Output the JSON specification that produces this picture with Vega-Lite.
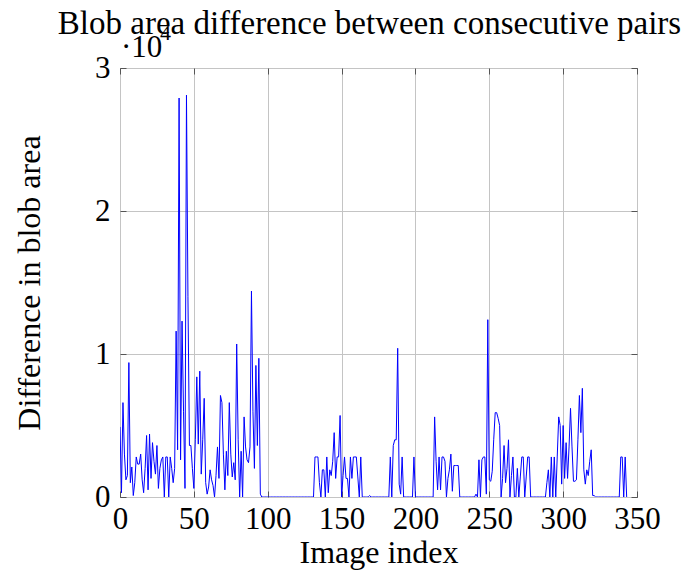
{
  "$schema": "https://vega.github.io/schema/vega-lite/v6.json",
  "autosize": "none",
  "width": 517,
  "height": 429,
  "padding": {"left": 120, "top": 68, "right": 44, "bottom": 82},
  "background": "white",
  "config": {
    "font": "Liberation Serif",
    "view": {"stroke": "black", "strokeWidth": 1}
  },
  "title": {
    "text": "Blob area difference between consecutive pairs",
    "fontSize": 33,
    "fontWeight": "normal",
    "color": "black",
    "frame": "group",
    "anchor": "middle",
    "baseline": "alphabetic",
    "offset": 0,
    "dy": 45,
    "dx": -9
  },
  "data": {
    "values": [
      {"i":0,"v":4900},{"i":1,"v":300},{"i":2,"v":6600},{"i":3,"v":3000},{"i":4,"v":1200},{"i":5,"v":1500},{"i":6,"v":9400},{"i":7,"v":1000},{"i":8,"v":2100},{"i":9,"v":100},
      {"i":10,"v":1000},{"i":11,"v":2800},{"i":12,"v":2300},{"i":13,"v":2300},{"i":14,"v":3000},{"i":15,"v":1200},{"i":16,"v":300},{"i":17,"v":2000},{"i":18,"v":4300},{"i":19,"v":500},
      {"i":20,"v":4400},{"i":21,"v":1300},{"i":22,"v":3800},{"i":23,"v":2500},{"i":24,"v":1600},{"i":25,"v":3600},{"i":26,"v":600},{"i":27,"v":2000},{"i":28,"v":2600},{"i":29,"v":2800},
      {"i":30,"v":0},{"i":31,"v":2800},{"i":32,"v":2800},{"i":33,"v":0},{"i":34,"v":2800},{"i":35,"v":2000},{"i":36,"v":1000},{"i":37,"v":2000},{"i":38,"v":11600},{"i":39,"v":3300},
      {"i":40,"v":27900},{"i":41,"v":2600},{"i":42,"v":12300},{"i":43,"v":6000},{"i":44,"v":600},{"i":45,"v":28100},{"i":46,"v":14000},{"i":47,"v":3600},{"i":48,"v":3600},{"i":49,"v":2000},
      {"i":50,"v":600},{"i":51,"v":4000},{"i":52,"v":8400},{"i":53,"v":3700},{"i":54,"v":8800},{"i":55,"v":1600},{"i":56,"v":4000},{"i":57,"v":6900},{"i":58,"v":1000},{"i":59,"v":200},
      {"i":60,"v":700},{"i":61,"v":1900},{"i":62,"v":1200},{"i":63,"v":800},{"i":64,"v":0},{"i":65,"v":1500},{"i":66,"v":3500},{"i":67,"v":1300},{"i":68,"v":7100},{"i":69,"v":6600},
      {"i":70,"v":3000},{"i":71,"v":500},{"i":72,"v":3200},{"i":73,"v":1500},{"i":74,"v":6600},{"i":75,"v":3000},{"i":76,"v":1400},{"i":77,"v":2400},{"i":78,"v":1200},{"i":79,"v":10700},
      {"i":80,"v":4000},{"i":81,"v":0},{"i":82,"v":3200},{"i":83,"v":0},{"i":84,"v":5600},{"i":85,"v":3500},{"i":86,"v":2600},{"i":87,"v":2400},{"i":88,"v":3500},{"i":89,"v":14400},
      {"i":90,"v":6000},{"i":91,"v":2000},{"i":92,"v":9200},{"i":93,"v":3600},{"i":94,"v":9700},{"i":95,"v":200},{"i":96,"v":0},{"i":97,"v":0},{"i":98,"v":0},{"i":99,"v":0},
      {"i":100,"v":0},{"i":101,"v":0},{"i":102,"v":0},{"i":103,"v":0},{"i":104,"v":0},{"i":105,"v":0},{"i":106,"v":0},{"i":107,"v":0},{"i":108,"v":0},{"i":109,"v":0},
      {"i":110,"v":0},{"i":111,"v":0},{"i":112,"v":0},{"i":113,"v":0},{"i":114,"v":0},{"i":115,"v":0},{"i":116,"v":0},{"i":117,"v":0},{"i":118,"v":0},{"i":119,"v":0},
      {"i":120,"v":0},{"i":121,"v":0},{"i":122,"v":0},{"i":123,"v":0},{"i":124,"v":0},{"i":125,"v":0},{"i":126,"v":0},{"i":127,"v":0},{"i":128,"v":0},{"i":129,"v":0},
      {"i":130,"v":0},{"i":131,"v":0},{"i":132,"v":2800},{"i":133,"v":2800},{"i":134,"v":2800},{"i":135,"v":1000},{"i":136,"v":0},{"i":137,"v":1900},{"i":138,"v":1900},{"i":139,"v":0},
      {"i":140,"v":2800},{"i":141,"v":300},{"i":142,"v":1900},{"i":143,"v":1500},{"i":144,"v":2500},{"i":145,"v":4500},{"i":146,"v":1300},{"i":147,"v":2800},{"i":148,"v":2800},{"i":149,"v":5700},
      {"i":150,"v":0},{"i":151,"v":1500},{"i":152,"v":2800},{"i":153,"v":1300},{"i":154,"v":1300},{"i":155,"v":0},{"i":156,"v":2800},{"i":157,"v":1300},{"i":158,"v":2800},{"i":159,"v":2800},
      {"i":160,"v":2800},{"i":161,"v":1400},{"i":162,"v":0},{"i":163,"v":2800},{"i":164,"v":0},{"i":165,"v":0},{"i":166,"v":0},{"i":167,"v":0},{"i":168,"v":0},{"i":169,"v":100},
      {"i":170,"v":0},{"i":171,"v":0},{"i":172,"v":0},{"i":173,"v":0},{"i":174,"v":0},{"i":175,"v":0},{"i":176,"v":0},{"i":177,"v":0},{"i":178,"v":0},{"i":179,"v":0},
      {"i":180,"v":0},{"i":181,"v":0},{"i":182,"v":0},{"i":183,"v":2800},{"i":184,"v":0},{"i":185,"v":3600},{"i":186,"v":4000},{"i":187,"v":4000},{"i":188,"v":10400},{"i":189,"v":900},
      {"i":190,"v":200},{"i":191,"v":2800},{"i":192,"v":0},{"i":193,"v":0},{"i":194,"v":0},{"i":195,"v":0},{"i":196,"v":0},{"i":197,"v":0},{"i":198,"v":0},{"i":199,"v":2800},
      {"i":200,"v":0},{"i":201,"v":0},{"i":202,"v":0},{"i":203,"v":0},{"i":204,"v":0},{"i":205,"v":0},{"i":206,"v":0},{"i":207,"v":0},{"i":208,"v":0},{"i":209,"v":0},
      {"i":210,"v":0},{"i":211,"v":0},{"i":212,"v":0},{"i":213,"v":5600},{"i":214,"v":2500},{"i":215,"v":500},{"i":216,"v":2800},{"i":217,"v":500},{"i":218,"v":2800},{"i":219,"v":2800},
      {"i":220,"v":2500},{"i":221,"v":0},{"i":222,"v":1300},{"i":223,"v":1900},{"i":224,"v":3000},{"i":225,"v":400},{"i":226,"v":2200},{"i":227,"v":2200},{"i":228,"v":2200},{"i":229,"v":2200},
      {"i":230,"v":0},{"i":231,"v":0},{"i":232,"v":0},{"i":233,"v":0},{"i":234,"v":0},{"i":235,"v":0},{"i":236,"v":0},{"i":237,"v":0},{"i":238,"v":0},{"i":239,"v":0},
      {"i":240,"v":0},{"i":241,"v":200},{"i":242,"v":0},{"i":243,"v":2600},{"i":244,"v":0},{"i":245,"v":2600},{"i":246,"v":2800},{"i":247,"v":2800},{"i":248,"v":200},{"i":249,"v":12400},
      {"i":250,"v":1200},{"i":251,"v":1100},{"i":252,"v":1800},{"i":253,"v":4000},{"i":254,"v":5900},{"i":255,"v":5900},{"i":256,"v":5500},{"i":257,"v":5000},{"i":258,"v":0},{"i":259,"v":1300},
      {"i":260,"v":3600},{"i":261,"v":1000},{"i":262,"v":2000},{"i":263,"v":4000},{"i":264,"v":0},{"i":265,"v":1500},{"i":266,"v":2800},{"i":267,"v":0},{"i":268,"v":0},{"i":269,"v":2000},
      {"i":270,"v":0},{"i":271,"v":1400},{"i":272,"v":2800},{"i":273,"v":2800},{"i":274,"v":0},{"i":275,"v":1400},{"i":276,"v":2800},{"i":277,"v":2800},{"i":278,"v":0},{"i":279,"v":0},
      {"i":280,"v":0},{"i":281,"v":0},{"i":282,"v":0},{"i":283,"v":0},{"i":284,"v":0},{"i":285,"v":0},{"i":286,"v":0},{"i":287,"v":0},{"i":288,"v":0},{"i":289,"v":1000},
      {"i":290,"v":1900},{"i":291,"v":0},{"i":292,"v":2800},{"i":293,"v":0},{"i":294,"v":2800},{"i":295,"v":0},{"i":296,"v":2800},{"i":297,"v":5600},{"i":298,"v":5000},{"i":299,"v":900},
      {"i":300,"v":5000},{"i":301,"v":1300},{"i":302,"v":3800},{"i":303,"v":1300},{"i":304,"v":3500},{"i":305,"v":6200},{"i":306,"v":3500},{"i":307,"v":1100},{"i":308,"v":1100},{"i":309,"v":1200},
      {"i":310,"v":4000},{"i":311,"v":7100},{"i":312,"v":4500},{"i":313,"v":7600},{"i":314,"v":1900},{"i":315,"v":900},{"i":316,"v":1900},{"i":317,"v":1500},{"i":318,"v":2500},{"i":319,"v":3300},
      {"i":320,"v":100},{"i":321,"v":100},{"i":322,"v":0},{"i":323,"v":0},{"i":324,"v":0},{"i":325,"v":0},{"i":326,"v":0},{"i":327,"v":0},{"i":328,"v":0},{"i":329,"v":0},
      {"i":330,"v":0},{"i":331,"v":0},{"i":332,"v":0},{"i":333,"v":0},{"i":334,"v":0},{"i":335,"v":0},{"i":336,"v":0},{"i":337,"v":0},{"i":338,"v":0},{"i":339,"v":2800},
      {"i":340,"v":2800},{"i":341,"v":0},{"i":342,"v":2800},{"i":343,"v":0}
    ]
  },
  "layer": [
    {
      "mark": {"type": "line", "color": "#0000ff", "strokeWidth": 1, "clip": true},
      "encoding": {
        "x": {
          "field": "i", "type": "quantitative",
          "scale": {"domain": [0, 350], "nice": false, "zero": false},
          "axis": {
            "orient": "bottom",
            "title": "Image index",
            "values": [0, 50, 100, 150, 200, 250, 300, 350],
            "grid": true, "gridColor": "#c4c4c4", "gridWidth": 1, "gridOpacity": 1,
            "domain": false,
            "ticks": true, "tickSize": -6, "tickColor": "#555555", "tickWidth": 1,
            "labelFontSize": 31, "labelColor": "black", "labelPadding": 13, "labelFlush": false,
            "titleFontSize": 32, "titleFontWeight": "normal", "titleColor": "black", "titlePadding": 3
          }
        },
        "y": {
          "field": "v", "type": "quantitative",
          "scale": {"domain": [0, 30000], "nice": false},
          "axis": {
            "orient": "left",
            "title": "Difference in blob area",
            "values": [0, 10000, 20000, 30000],
            "labelExpr": "datum.value / 10000",
            "grid": true, "gridColor": "#c4c4c4", "gridWidth": 1, "gridOpacity": 1,
            "domain": false,
            "ticks": true, "tickSize": -6, "tickColor": "#555555", "tickWidth": 1,
            "labelFontSize": 31, "labelColor": "black", "labelPadding": 16, "labelFlush": false,
            "titleFontSize": 32, "titleFontWeight": "normal", "titleColor": "black", "titlePadding": 48
          }
        }
      }
    },
    {
      "data": {"values": [{"x": 0, "y": 30000, "t": "·10"}]},
      "mark": {"type": "text", "align": "left", "baseline": "alphabetic", "fontSize": 31, "dx": 1, "dy": -11, "color": "black"},
      "encoding": {
        "x": {"field": "x", "type": "quantitative", "axis": {"orient": "top", "title": null, "labels": false, "grid": false, "domain": false, "values": [0, 50, 100, 150, 200, 250, 300, 350], "tickSize": -6, "tickColor": "#555555"}},
        "y": {"field": "y", "type": "quantitative", "axis": {"orient": "right", "title": null, "labels": false, "grid": false, "domain": false, "values": [0, 10000, 20000, 30000], "tickSize": -6, "tickColor": "#555555"}},
        "text": {"field": "t"}
      }
    },
    {
      "data": {"values": [{"x": 0, "y": 30000, "t": "4"}]},
      "mark": {"type": "text", "align": "left", "baseline": "alphabetic", "fontSize": 22, "dx": 40, "dy": -28, "color": "black"},
      "encoding": {
        "x": {"field": "x", "type": "quantitative", "axis": null},
        "y": {"field": "y", "type": "quantitative", "axis": null},
        "text": {"field": "t"}
      }
    }
  ],
  "resolve": {"axis": {"x": "independent", "y": "independent"}}
}
